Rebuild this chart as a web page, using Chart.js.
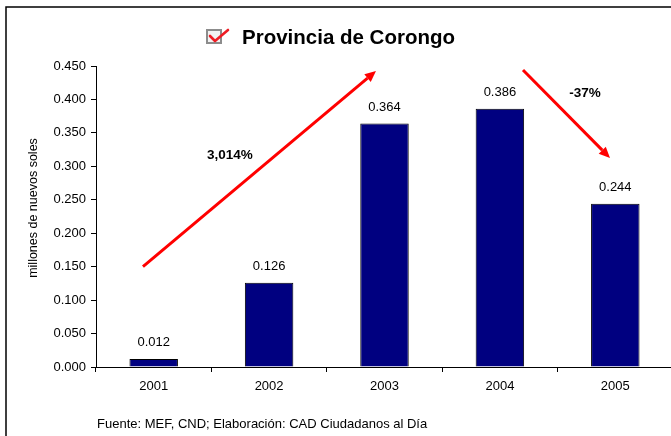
<!DOCTYPE html>
<html>
<head>
<meta charset="utf-8">
<script src="https://cdn.jsdelivr.net/npm/chart.js@4/dist/chart.umd.min.js"></script>
<style>
html,body{margin:0;padding:0;overflow:hidden;background:#fff;}
#wrap{position:absolute;left:0;top:0;width:680px;height:436px;}
</style>
</head>
<body>
<div id="wrap"><canvas id="c" width="680" height="436"></canvas></div>
<script>
const categories = ['2001', '2002', '2003', '2004', '2005'];
const values = [0.012, 0.126, 0.364, 0.386, 0.244];
const valueLabels = ['0.012', '0.126', '0.364', '0.386', '0.244'];
const titleText = 'Provincia de Corongo';
const yAxisTitle = 'millones de nuevos soles';
const footerText = 'Fuente: MEF, CND; Elaboración: CAD Ciudadanos al Día';
// arrows in data units: [x0, y0, x1, y1] (x = category index)
const arrows = [[-0.093, 0.150, 1.926, 0.4425], [3.2, 0.444, 3.954, 0.3125]];
const arrowLabels = ['3,014%', '-37%'];
const arrowLabelPos = [[0.661, 0.317], [3.737, 0.4096]];

const FONT = '"Liberation Sans", Arial, sans-serif';

const decor = {
  id: 'decor',
  afterDraw(chart) {
    const ctx = chart.ctx;
    const xs = chart.scales.x, ys = chart.scales.y;
    ctx.save();
    // frame
    ctx.strokeStyle = '#000';
    ctx.lineWidth = 1.5;
    ctx.beginPath();
    ctx.moveTo(6, 440);
    ctx.lineTo(6, 7);
    ctx.lineTo(690, 7);
    ctx.stroke();
    // title
    ctx.fillStyle = '#000';
    ctx.font = 'bold 20.5px ' + FONT;
    ctx.textAlign = 'left';
    ctx.textBaseline = 'alphabetic';
    ctx.fillText(titleText, 242, 44);
    // checkbox icon
    ctx.fillStyle = '#f2f2f2';
    ctx.fillRect(206, 29, 16, 15);
    ctx.strokeStyle = '#8c8c8c';
    ctx.lineWidth = 2;
    ctx.strokeRect(207, 30, 14, 13);
    ctx.strokeStyle = '#ee1c24';
    ctx.lineWidth = 2.6;
    ctx.lineCap = 'round';
    ctx.lineJoin = 'round';
    ctx.beginPath();
    ctx.moveTo(210, 36);
    ctx.lineTo(215, 41);
    ctx.lineTo(228, 30);
    ctx.stroke();
    ctx.lineCap = 'butt';
    ctx.lineJoin = 'miter';
    // y axis title
    ctx.fillStyle = '#000';
    ctx.font = '12.5px ' + FONT;
    ctx.save();
    ctx.translate(34, 208);
    ctx.rotate(-Math.PI / 2);
    ctx.textAlign = 'center';
    ctx.textBaseline = 'middle';
    ctx.fillText(yAxisTitle, 0, 0);
    ctx.restore();
    // value labels
    ctx.fillStyle = '#000';
    ctx.font = '13px ' + FONT;
    ctx.textAlign = 'center';
    ctx.textBaseline = 'alphabetic';
    const meta = chart.getDatasetMeta(0);
    meta.data.forEach((bar, i) => {
      ctx.fillText(valueLabels[i], bar.x, bar.y - 13);
    });
    // arrows
    arrows.forEach(a => {
      const x0 = xs.getPixelForValue(a[0]), y0 = ys.getPixelForValue(a[1]);
      const x1 = xs.getPixelForValue(a[2]), y1 = ys.getPixelForValue(a[3]);
      const ang = Math.atan2(y1 - y0, x1 - x0);
      const hl = 11, hw = 5;
      const bx = x1 - hl * Math.cos(ang), by = y1 - hl * Math.sin(ang);
      ctx.strokeStyle = '#ff0000';
      ctx.fillStyle = '#ff0000';
      ctx.lineWidth = 3;
      ctx.beginPath();
      ctx.moveTo(x0, y0);
      ctx.lineTo(bx, by);
      ctx.stroke();
      ctx.beginPath();
      ctx.moveTo(x1, y1);
      ctx.lineTo(bx + hw * Math.sin(ang), by - hw * Math.cos(ang));
      ctx.lineTo(bx - hw * Math.sin(ang), by + hw * Math.cos(ang));
      ctx.closePath();
      ctx.fill();
    });
    // arrow labels
    ctx.fillStyle = '#000';
    ctx.font = 'bold 13.5px ' + FONT;
    ctx.textAlign = 'center';
    ctx.textBaseline = 'middle';
    arrowLabelPos.forEach((p, i) => {
      ctx.fillText(arrowLabels[i], xs.getPixelForValue(p[0]), ys.getPixelForValue(p[1]));
    });
    // footer
    ctx.font = '13px ' + FONT;
    ctx.textAlign = 'left';
    ctx.fillText(footerText, 97, 424);
    ctx.restore();
  }
};

new Chart(document.getElementById('c'), {
  type: 'bar',
  data: {
    labels: categories,
    datasets: [{
      data: values,
      backgroundColor: '#000080',
      borderColor: '#000000',
      borderWidth: 1,
      barPercentage: 0.84,
      categoryPercentage: 0.5
    }]
  },
  options: {
    responsive: false,
    animation: false,
    devicePixelRatio: 1,
    layout: { padding: { left: 0, right: 7, top: 66, bottom: 0 } },
    plugins: { legend: { display: false }, tooltip: { enabled: false }, title: { display: false } },
    scales: {
      x: {
        afterFit(s) { s.height = 69; },
        grid: { drawOnChartArea: false, offset: true, color: '#000', tickLength: 5, tickColor: '#000' },
        border: { color: '#000', width: 1 },
        ticks: { color: '#000', font: { family: FONT, size: 13 }, padding: 7, maxRotation: 0 }
      },
      y: {
        min: 0, max: 0.45,
        afterFit(s) { s.width = 96; },
        grid: { drawOnChartArea: false, color: '#000', tickLength: 5, tickColor: '#000' },
        border: { color: '#000', width: 1 },
        ticks: {
          stepSize: 0.05, color: '#000', padding: 5,
          font: { family: FONT, size: 13 },
          callback: v => Number(v).toFixed(3)
        }
      }
    }
  },
  plugins: [decor]
});
</script>
</body>
</html>
